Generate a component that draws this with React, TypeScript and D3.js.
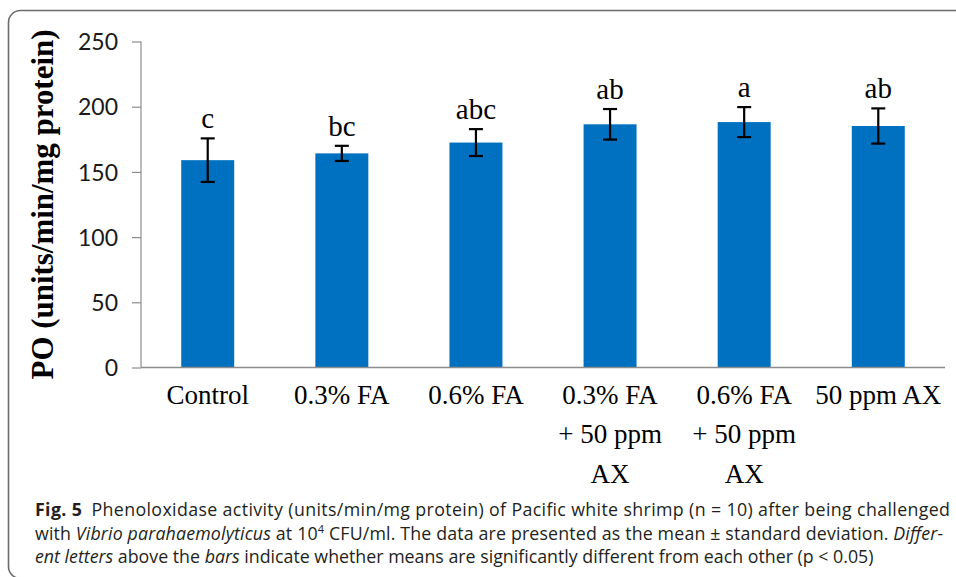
import { useEffect, useRef } from "react";
import * as d3 from "d3";

const categories = ["Control", "0.3% FA", "0.6% FA", "0.3% FA + 50 ppm AX", "0.6% FA + 50 ppm AX", "50 ppm AX"];
const labelLines = [["Control"], ["0.3% FA"], ["0.6% FA"], ["0.3% FA", "+ 50 ppm", "AX"], ["0.6% FA", "+ 50 ppm", "AX"], ["50 ppm AX"]];
const means = [159, 164.2, 172.5, 186.5, 188.2, 185.2];
const sds = [16.7, 5.8, 10.3, 11.7, 11.5, 13.5];
const letters = ["c", "bc", "abc", "ab", "a", "ab"];
const yTicks = [0, 50, 100, 150, 200, 250];

const W = 956;
const H = 577;
const m = { top: 41.5, right: 11, bottom: 209.5, left: 141 };
const SERIF = "'Liberation Serif', 'Times New Roman', serif";
const SANS = "Lato, 'Open Sans', sans-serif";

export default function App() {
  const ref = useRef<SVGSVGElement | null>(null);

  useEffect(() => {
    const svg = d3.select(ref.current);
    svg.selectAll("*").remove();

    const x = d3.scaleBand<string>().domain(categories).range([m.left, W - m.right]).paddingInner(0.605).paddingOuter(0.3);
    const y = d3.scaleLinear().domain([0, 250]).range([H - m.bottom, m.top]);

    // figure frame
    svg.append("rect")
      .attr("x", 8.5).attr("y", 10.5).attr("width", 1000).attr("height", 568).attr("rx", 12)
      .attr("fill", "none").attr("stroke", "#6b6b6b").attr("stroke-width", 1.6);

    // y axis
    svg.append("g")
      .attr("transform", `translate(${m.left},0)`)
      .call(d3.axisLeft(y).tickValues(yTicks).tickSize(9).tickPadding(14))
      .call((s) => s.select(".domain").attr("stroke", "#8c8c8c").attr("stroke-width", 1.2).attr("d", `M0,${y(0)}V${y(250)}`))
      .call((s) => s.selectAll(".tick line").attr("stroke", "#8c8c8c").attr("stroke-width", 1.2))
      .call((s) => s.selectAll(".tick text").attr("fill", "#1a1a1a").attr("font-family", SANS).attr("font-size", 23).attr("dy", "0.36em"));

    // bars
    svg.append("g").selectAll("rect").data(categories).join("rect")
      .attr("x", (d) => x(d)!)
      .attr("y", (_, i) => y(means[i]))
      .attr("width", x.bandwidth())
      .attr("height", (_, i) => y(0) - y(means[i]))
      .attr("fill", "#0070c0");

    // x axis line
    svg.append("line")
      .attr("x1", m.left).attr("x2", W - m.right)
      .attr("y1", y(0)).attr("y2", y(0))
      .attr("stroke", "#8c8c8c").attr("stroke-width", 1.4);

    // error bars
    const eb = svg.append("g").attr("stroke", "#000").attr("stroke-width", 2.2);
    categories.forEach((c, i) => {
      const cx = x(c)! + x.bandwidth() / 2;
      const top = y(means[i] + sds[i]);
      const bot = y(means[i] - sds[i]);
      eb.append("line").attr("x1", cx).attr("x2", cx).attr("y1", top).attr("y2", bot);
      eb.append("line").attr("x1", cx - 7).attr("x2", cx + 7).attr("y1", top).attr("y2", top);
      eb.append("line").attr("x1", cx - 7).attr("x2", cx + 7).attr("y1", bot).attr("y2", bot);
    });

    // significance letters
    svg.append("g").selectAll("text").data(letters).join("text")
      .attr("x", (_, i) => x(categories[i])! + x.bandwidth() / 2)
      .attr("y", (_, i) => y(means[i] + sds[i]) - 10)
      .attr("text-anchor", "middle")
      .attr("font-family", SERIF).attr("font-size", 29)
      .text((d) => d);

    // category labels
    const xl = svg.append("g").attr("font-family", SERIF).attr("font-size", 27).attr("fill", "#000").attr("text-anchor", "middle");
    categories.forEach((c, i) => {
      const t = xl.append("text").attr("x", x(c)! + x.bandwidth() / 2);
      labelLines[i].forEach((ln, j) => {
        t.append("tspan").attr("x", x(c)! + x.bandwidth() / 2).attr("y", y(0) + 36 + j * 39.5).text(ln);
      });
    });

    // y axis title
    svg.append("text")
      .attr("transform", `translate(53,${(y(0) + y(250)) / 2}) rotate(-90)`)
      .attr("text-anchor", "middle")
      .attr("font-family", SERIF).attr("font-weight", "bold").attr("font-size", 31)
      .attr("textLength", 350).attr("lengthAdjust", "spacingAndGlyphs")
      .text("PO (units/min/mg protein)");

    // caption
    const cap = svg.append("g").attr("font-family", "'Open Sans', 'Noto Sans', sans-serif").attr("font-size", 17.8).attr("fill", "#231f20");
    const l1 = cap.append("text").attr("x", 35).attr("y", 516).attr("textLength", 915).attr("lengthAdjust", "spacing");
    l1.append("tspan").attr("font-weight", "bold").text("Fig. 5");
    l1.append("tspan").text("\u2002Phenoloxidase activity (units/min/mg protein) of Pacific white shrimp (n = 10) after being challenged");
    const l2 = cap.append("text").attr("x", 35).attr("y", 540).attr("textLength", 908).attr("lengthAdjust", "spacing");
    l2.append("tspan").text("with ");
    l2.append("tspan").attr("font-style", "italic").text("Vibrio parahaemolyticus");
    l2.append("tspan").text(" at 10");
    l2.append("tspan").attr("font-size", 11).attr("dy", -7).text("4");
    l2.append("tspan").attr("dy", 7).text(" CFU/ml. The data are presented as the mean \u00b1 standard deviation. ");
    l2.append("tspan").attr("font-style", "italic").text("Differ-");
    const l3 = cap.append("text").attr("x", 35).attr("y", 563);
    l3.append("tspan").attr("font-style", "italic").text("ent letters");
    l3.append("tspan").text(" above the ");
    l3.append("tspan").attr("font-style", "italic").text("bars");
    l3.append("tspan").text(" indicate whether means are significantly different from each other (p < 0.05)");
  }, []);

  return (
    <svg
      ref={ref}
      width={W}
      height={H}
      style={{ position: "absolute", left: 0, top: 0, background: "#fff" }}
    />
  );
}
